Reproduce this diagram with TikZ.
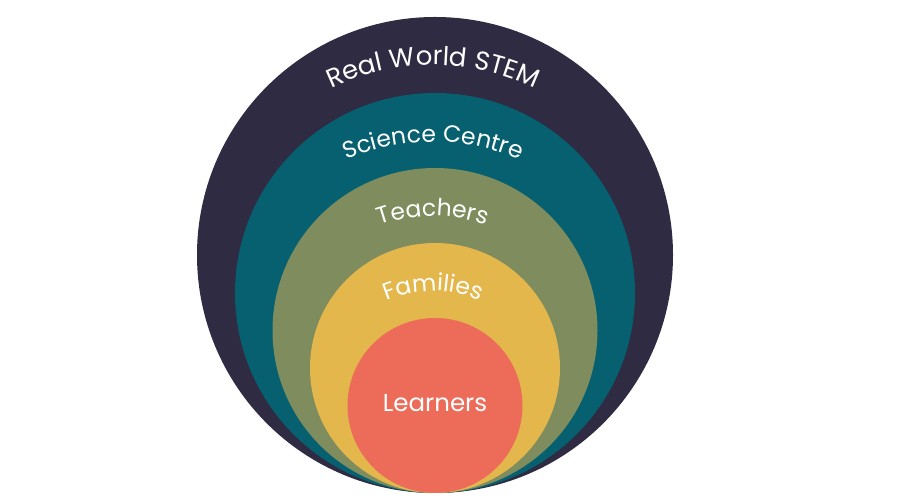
\documentclass[tikz,border=0pt]{standalone}
\usepackage{fontspec}
\usetikzlibrary{decorations.text}
\newfontfamily\ringfont{Poppins}
\newcommand{\ringsize}[1]{\ringfont\fontsize{#1}{#1}\selectfont}
\definecolor{worldcol}{RGB}{46,43,66}
\definecolor{centrecol}{RGB}{6,96,111}
\definecolor{teachcol}{RGB}{126,140,94}
\definecolor{familycol}{RGB}{228,183,76}
\definecolor{learncol}{RGB}{236,108,89}
\tikzset{
  ringlabel/.style 2 args={decorate, decoration={text along path, text align=center,
      text={|\ringsize{#2}\color{white}|#1}}}
}
\begin{document}
\begin{tikzpicture}[x=1pt, y=1pt]
\useasboundingbox (0,0) rectangle (900,500);
% círculos
\foreach \yc/\r/\col/\name in {245/238/worldcol/world, 207/200/centrecol/centre,
    169.5/162.5/teachcol/teach, 132/125/familycol/family, 94.5/87.5/learncol/learn} {
  \coordinate (\name) at (435,\yc);
  \fill[\col] (\name) circle (\r);
}
% rótulos
\path[ringlabel={Real World STEM}{26}] (433,200) ++(150:235) arc[start angle=150, end angle=30, radius=235];
\path[ringlabel={Science Centre}{23.5}] (433,138) ++(150:220) arc[start angle=150, end angle=30, radius=220];
\path[ringlabel={Teachers}{23.5}] (433,124) ++(150:160) arc[start angle=150, end angle=30, radius=160];
\path[ringlabel={Families}{23.5}] (433,89) ++(150:120) arc[start angle=150, end angle=30, radius=120];
\node[font=\ringsize{24.5}, text=white, anchor=base, inner sep=0pt] (learners) at (435,88) {Learners};
\end{tikzpicture}
\end{document}
